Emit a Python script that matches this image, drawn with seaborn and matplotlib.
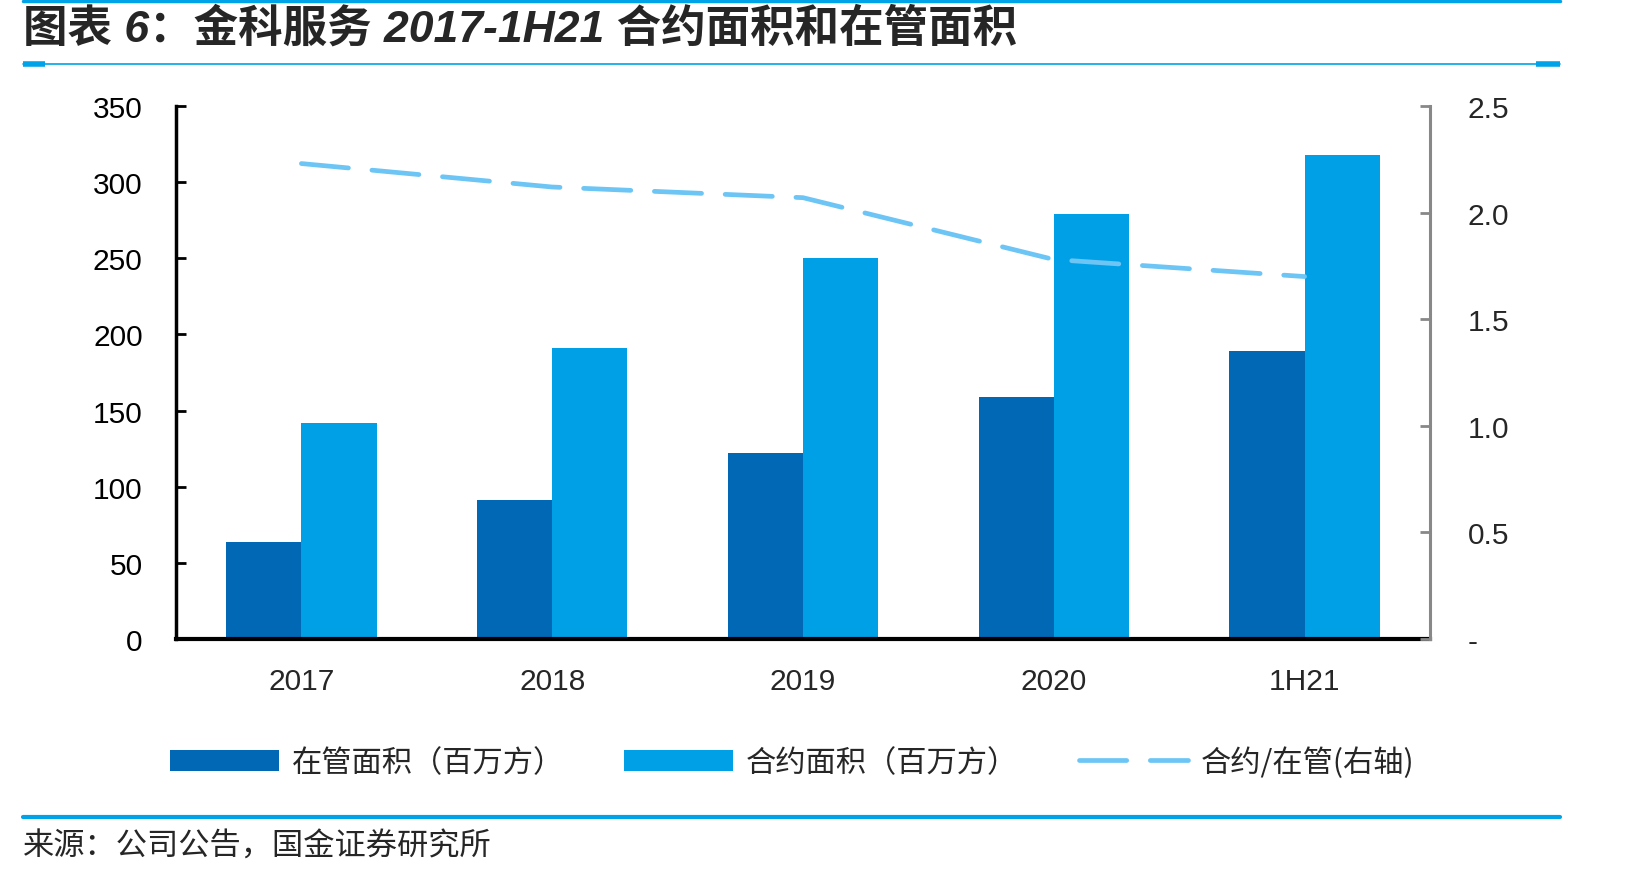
import numpy as np
import pandas as pd
import matplotlib
matplotlib.use("Agg")
import matplotlib.pyplot as plt
from matplotlib.lines import Line2D
import seaborn as sns

CATEGORIES = ["2017", "2018", "2019", "2020", "1H21"]
MANAGED = [64, 91, 122, 159, 189]          # 在管面积（百万方）
CONTRACTED = [142, 191, 250, 279, 318]     # 合约面积（百万方）
RATIO = [2.23, 2.12, 2.07, 1.78, 1.70]     # 合约/在管(右轴)
RIGHT_TICKS = ["-", "0.5", "1.0", "1.5", "2.0", "2.5"]

SERIES = ["在管面积（百万方）", "合约面积（百万方）"]
LINE_LABEL = "合约/在管(右轴)"
TITLE = "图表 6：金科服务 2017-1H21 合约面积和在管面积"
SOURCE = "来源：公司公告，国金证券研究所"

DARK = "#0068B5"
LIGHT = "#00A0E6"
LINE_C = "#6CC5F4"
RULE = "#00A3E8"

sns.set_theme(style="white")
plt.rcParams["font.family"] = ["Liberation Sans", "Noto Sans CJK SC", "DejaVu Sans"]

df = pd.DataFrame({
    "cat": CATEGORIES * 2,
    "val": MANAGED + CONTRACTED,
    "series": [SERIES[0]] * len(CATEGORIES) + [SERIES[1]] * len(CATEGORIES),
})

fig = plt.figure(figsize=(16.42, 8.78), dpi=100)
ax = fig.add_axes([176 / 1642, 238 / 878, (1430 - 176) / 1642, (640 - 107) / 878])

sns.barplot(data=df, x="cat", y="val", hue="series", palette=[DARK, LIGHT],
            width=0.6, saturation=1, ax=ax, order=CATEGORIES, hue_order=SERIES,
            linewidth=0)
handles, labels = ax.get_legend_handles_labels()
ax.get_legend().remove()

ax.set_xlim(-0.5, len(CATEGORIES) - 0.5)
ax.set_ylim(0, 350)
ax.set_yticks(np.arange(0, 351, 50))
ax.set_xlabel("")
ax.set_ylabel("")
ax.tick_params(axis="y", direction="in", length=7, width=2, labelsize=21.5, pad=24, colors="black")
ax.tick_params(axis="x", which="major", length=0, labelsize=21.5, pad=20)
ax.set_xticks(np.arange(0.5, len(CATEGORIES) - 0.5, 1), minor=True)
ax.tick_params(axis="x", which="minor", direction="in", length=7, width=1.5, color="black")
for s in ["top", "right"]:
    ax.spines[s].set_visible(False)
ax.spines["left"].set_linewidth(2.5)
ax.spines["left"].set_color("black")
ax.spines["bottom"].set_linewidth(3)
ax.spines["bottom"].set_color("black")

ax2 = ax.twinx()
line_df = pd.DataFrame({"x": np.arange(len(CATEGORIES)), "ratio": RATIO})
sns.lineplot(data=line_df, x="x", y="ratio", ax=ax2, color=LINE_C, linewidth=3.4,
             dashes=False, label=LINE_LABEL)
ln = ax2.get_lines()[0]
ln.set_dashes((10, 5))
ln.set_dash_capstyle("round")
ax2.get_legend().remove()
ax2.set_ylim(0, 2.5)
ax2.set_yticks(np.arange(0, 2.51, 0.5))
ax2.set_yticklabels(RIGHT_TICKS)
ax2.set_ylabel("")
ax2.tick_params(axis="y", direction="in", length=7, width=2, color="#888888",
                labelsize=21.5, pad=27)
for s in ["top", "left", "bottom"]:
    ax2.spines[s].set_visible(False)
ax2.spines["right"].set_linewidth(2.2)
ax2.spines["right"].set_color("#888888")
ax.set_xlim(-0.5, len(CATEGORIES) - 0.5)

leg_line = Line2D([], [], color=LINE_C, linewidth=3.4, dashes=(10, 5),
                  dash_capstyle="round")
fig.legend(handles + [leg_line], labels + [LINE_LABEL], loc="center",
           bbox_to_anchor=(792 / 1642, 115 / 878), ncol=3, frameon=False,
           prop={"family": ["Noto Sans CJK SC"], "size": 21.8},
           handlelength=3.6, handleheight=0.7, handletextpad=0.42,
           columnspacing=2.0)

fig.text(23 / 1642, 1 - 29 / 878, TITLE, fontsize=32, fontweight="bold",
         fontstyle="italic", family=["Liberation Sans", "Noto Sans CJK SC", "DejaVu Sans"],
         ha="left", va="center")
fig.text(23 / 1642, 1 - 847 / 878, SOURCE, fontsize=22.5,
         family=["Noto Sans CJK SC", "DejaVu Sans"], ha="left", va="center")

# decorative rules
x0, x1 = 23 / 1642, 1560 / 1642
fig.add_artist(Line2D([x0, x1], [1 - 1.5 / 878] * 2, color=RULE, linewidth=2.5))
fig.add_artist(Line2D([x0, x1], [1 - 65 / 878] * 2, color=RULE, linewidth=1.2))
fig.add_artist(Line2D([x0, 45 / 1642], [1 - 65 / 878] * 2, color=RULE, linewidth=4,
                      solid_capstyle="butt"))
fig.add_artist(Line2D([1536 / 1642, x1], [1 - 65 / 878] * 2, color=RULE, linewidth=4,
                      solid_capstyle="butt"))
fig.add_artist(Line2D([x0, x1], [1 - 818 / 878] * 2, color=RULE, linewidth=3))

fig.savefig("out.png", dpi=100)
